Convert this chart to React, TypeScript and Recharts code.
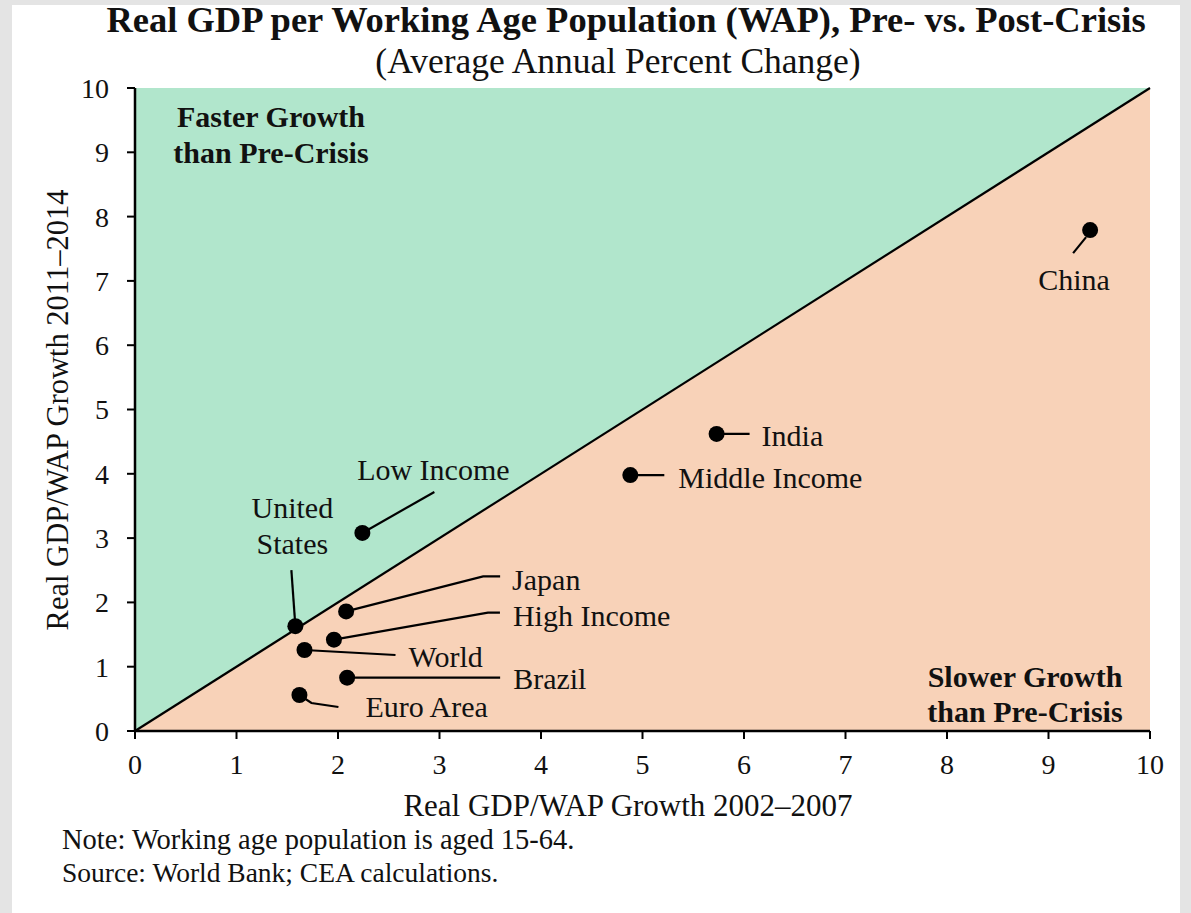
import React from 'react';
import {
  ScatterChart,
  Scatter,
  XAxis,
  YAxis,
  ReferenceArea,
  ReferenceLine,
} from 'recharts';

// ---- Data ----
const names = [
  'China',
  'India',
  'Middle Income',
  'Low Income',
  'United States',
  'Japan',
  'High Income',
  'World',
  'Brazil',
  'Euro Area',
];
const growth2002to2007 = [9.41, 5.73, 4.88, 2.24, 1.58, 2.08, 1.96, 1.67, 2.09, 1.62];
const growth2011to2014 = [7.79, 4.62, 3.98, 3.08, 1.63, 1.86, 1.42, 1.26, 0.83, 0.56];
const axisTicks = [0, 1, 2, 3, 4, 5, 6, 7, 8, 9, 10];

const points = names.map((name, i) => ({
  name,
  x: growth2002to2007[i],
  y: growth2011to2014[i],
}));

// ---- Label layout (pixel offsets relative to each dot) ----
type Layout = {
  leader: [number, number][];
  lines: string[];
  dx: number;
  dy: number;
  lineGap?: number;
  anchor: 'start' | 'middle' | 'end';
};
const labelLayout: Record<string, Layout> = {
  China: { leader: [[-4, 7], [-17, 23]], lines: ['China'], dx: -16, dy: 49, anchor: 'middle' },
  India: { leader: [[0, 0], [33, 0]], lines: ['India'], dx: 45, dy: 2, anchor: 'start' },
  'Middle Income': { leader: [[0, 0], [34, 0]], lines: ['Middle Income'], dx: 48, dy: 2, anchor: 'start' },
  'Low Income': { leader: [[0, 0], [72, -41]], lines: ['Low Income'], dx: 71, dy: -63, anchor: 'middle' },
  'United States': {
    leader: [[-4, -56], [0, 0]],
    lines: ['United', 'States'],
    dx: -3,
    dy: -119,
    lineGap: 36,
    anchor: 'middle',
  },
  Japan: { leader: [[0, 0], [137, -35], [154, -35]], lines: ['Japan'], dx: 166, dy: -32, anchor: 'start' },
  'High Income': { leader: [[0, 0], [154, -27], [166, -27]], lines: ['High Income'], dx: 179, dy: -24, anchor: 'start' },
  World: { leader: [[0, 0], [91, 5]], lines: ['World'], dx: 104, dy: 7, anchor: 'start' },
  Brazil: { leader: [[0, 0], [153, 0]], lines: ['Brazil'], dx: 166, dy: 1, anchor: 'start' },
  'Euro Area': { leader: [[0, 0], [12, 8], [39, 12]], lines: ['Euro Area'], dx: 66, dy: 12, anchor: 'start' },
};

const SERIF = '"Liberation Serif", "Times New Roman", serif';
const GREEN = '#b1e6cc';
const ORANGE = '#f8d2b8';

const PointShape = (props: any) => {
  const { cx, cy, payload } = props;
  const lay = labelLayout[payload.name];
  const pts = lay.leader.map(([a, b]) => `${cx + a},${cy + b}`).join(' ');
  return (
    <g>
      <polyline points={pts} fill="none" stroke="#000" strokeWidth={2.2} />
      <circle cx={cx} cy={cy} r={8} fill="#000" />
      {lay.lines.map((t, i) => (
        <text
          key={t}
          x={cx + lay.dx}
          y={cy + lay.dy + i * (lay.lineGap || 0)}
          textAnchor={lay.anchor}
          dominantBaseline="central"
          fontFamily={SERIF}
          fontSize={30}
          fill="#111"
        >
          {t}
        </text>
      ))}
    </g>
  );
};

const RegionShape = (props: any) => {
  const { x, y, width, height } = props;
  return (
    <g>
      <polygon points={`${x},${y + height} ${x},${y} ${x + width},${y}`} fill={GREEN} />
      <polygon points={`${x},${y + height} ${x + width},${y} ${x + width},${y + height}`} fill={ORANGE} />
    </g>
  );
};

const abs = (style: React.CSSProperties): React.CSSProperties => ({
  position: 'absolute',
  fontFamily: SERIF,
  color: '#111',
  whiteSpace: 'nowrap',
  lineHeight: 1,
  ...style,
});

export default function App() {
  return (
    <div
      style={{
        position: 'absolute',
        left: 0,
        top: 0,
        width: 1191,
        height: 913,
        background: '#e4e4e4',
        overflow: 'hidden',
      }}
    >
      <div style={{ position: 'absolute', left: 12, top: 5, width: 1168, height: 908, background: '#fff' }} />
      <div style={{ position: 'absolute', left: 0, top: 0 }}>
        <ScatterChart width={1191} height={913} margin={{ top: 88, right: 41, bottom: 132, left: 75 }}>
          <ReferenceArea x1={0} x2={10} y1={0} y2={10} shape={RegionShape} />
          <ReferenceLine
            segment={[
              { x: 0, y: 0 },
              { x: 10, y: 10 },
            ]}
            stroke="#000"
            strokeWidth={2.2}
          />
          <XAxis
            type="number"
            dataKey="x"
            domain={[0, 10]}
            ticks={axisTicks}
            height={50}
            tickSize={8}
            tickMargin={15}
            axisLine={{ stroke: '#000', strokeWidth: 2.5 }}
            tickLine={{ stroke: '#000', strokeWidth: 2 }}
            tick={{ fill: '#111', fontFamily: SERIF, fontSize: 28 }}
            allowDataOverflow
          />
          <YAxis
            type="number"
            dataKey="y"
            domain={[0, 10]}
            ticks={axisTicks}
            width={60}
            tickSize={8}
            tickMargin={18}
            axisLine={{ stroke: '#000', strokeWidth: 2.5 }}
            tickLine={{ stroke: '#000', strokeWidth: 2 }}
            tick={{ fill: '#111', fontFamily: SERIF, fontSize: 28 }}
            allowDataOverflow
          />
          <Scatter data={points} shape={PointShape} isAnimationActive={false} />
        </ScatterChart>
      </div>

      <div style={abs({ left: 626, top: 20, transform: 'translate(-50%,-50%)', fontSize: 36.5, fontWeight: 'bold' })}>
        Real GDP per Working Age Population (WAP), Pre- vs. Post-Crisis
      </div>
      <div style={abs({ left: 618, top: 62, transform: 'translate(-50%,-50%)', fontSize: 35.5 })}>
        (Average Annual Percent Change)
      </div>

      <div
        style={abs({
          left: 271,
          top: 135,
          transform: 'translate(-50%,-50%)',
          fontSize: 30,
          fontWeight: 'bold',
          textAlign: 'center',
          lineHeight: '36px',
        })}
      >
        Faster Growth
        <br />
        than Pre-Crisis
      </div>
      <div
        style={abs({
          left: 1025,
          top: 694,
          transform: 'translate(-50%,-50%)',
          fontSize: 30,
          fontWeight: 'bold',
          textAlign: 'center',
          lineHeight: '35px',
        })}
      >
        Slower Growth
        <br />
        than Pre-Crisis
      </div>

      <div style={abs({ left: 628, top: 805, transform: 'translate(-50%,-50%)', fontSize: 31 })}>
        Real GDP/WAP Growth 2002–2007
      </div>
      <div style={abs({ left: 58, top: 410, transform: 'translate(-50%,-50%) rotate(-90deg)', fontSize: 30.5 })}>
        Real GDP/WAP Growth 2011–2014
      </div>

      <div style={abs({ left: 62, top: 840, transform: 'translateY(-50%)', fontSize: 28.5 })}>
        Note: Working age population is aged 15-64.
      </div>
      <div style={abs({ left: 62, top: 873, transform: 'translateY(-50%)', fontSize: 27.5 })}>
        Source: World Bank; CEA calculations.
      </div>
    </div>
  );
}
